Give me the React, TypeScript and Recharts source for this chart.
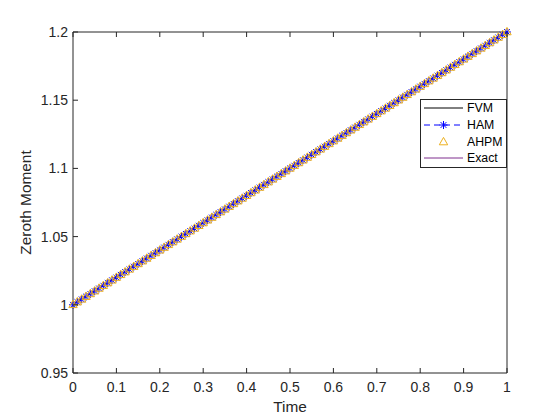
import React from 'react';
import { LineChart, Line, XAxis, YAxis, Legend } from 'recharts';

const time = [
  0, 0.01, 0.02, 0.03, 0.04, 0.05, 0.06, 0.07, 0.08, 0.09,
  0.1, 0.11, 0.12, 0.13, 0.14, 0.15, 0.16, 0.17, 0.18, 0.19,
  0.2, 0.21, 0.22, 0.23, 0.24, 0.25, 0.26, 0.27, 0.28, 0.29,
  0.3, 0.31, 0.32, 0.33, 0.34, 0.35, 0.36, 0.37, 0.38, 0.39,
  0.4, 0.41, 0.42, 0.43, 0.44, 0.45, 0.46, 0.47, 0.48, 0.49,
  0.5, 0.51, 0.52, 0.53, 0.54, 0.55, 0.56, 0.57, 0.58, 0.59,
  0.6, 0.61, 0.62, 0.63, 0.64, 0.65, 0.66, 0.67, 0.68, 0.69,
  0.7, 0.71, 0.72, 0.73, 0.74, 0.75, 0.76, 0.77, 0.78, 0.79,
  0.8, 0.81, 0.82, 0.83, 0.84, 0.85, 0.86, 0.87, 0.88, 0.89,
  0.9, 0.91, 0.92, 0.93, 0.94, 0.95, 0.96, 0.97, 0.98, 0.99,
  1,
];

const moment = [
  1, 1.002, 1.004, 1.006, 1.008, 1.01, 1.012, 1.014, 1.016, 1.018,
  1.02, 1.022, 1.024, 1.026, 1.028, 1.03, 1.032, 1.034, 1.036, 1.038,
  1.04, 1.042, 1.044, 1.046, 1.048, 1.05, 1.052, 1.054, 1.056, 1.058,
  1.06, 1.062, 1.064, 1.066, 1.068, 1.07, 1.072, 1.074, 1.076, 1.078,
  1.08, 1.082, 1.084, 1.086, 1.088, 1.09, 1.092, 1.094, 1.096, 1.098,
  1.1, 1.102, 1.104, 1.106, 1.108, 1.11, 1.112, 1.114, 1.116, 1.118,
  1.12, 1.122, 1.124, 1.126, 1.128, 1.13, 1.132, 1.134, 1.136, 1.138,
  1.14, 1.142, 1.144, 1.146, 1.148, 1.15, 1.152, 1.154, 1.156, 1.158,
  1.16, 1.162, 1.164, 1.166, 1.168, 1.17, 1.172, 1.174, 1.176, 1.178,
  1.18, 1.182, 1.184, 1.186, 1.188, 1.19, 1.192, 1.194, 1.196, 1.198,
  1.2,
];

const fvm = moment;
const ham = moment;
const ahpm = moment;
const exact = moment;

const xTicks = [0, 0.1, 0.2, 0.3, 0.4, 0.5, 0.6, 0.7, 0.8, 0.9, 1];
const yTicks = [0.95, 1, 1.05, 1.1, 1.15, 1.2];
const xLabel = 'Time';
const yLabel = 'Zeroth Moment';
const seriesNames = ['FVM', 'HAM', 'AHPM', 'Exact'];

const data = time.map((t, i) => ({
  t,
  fvm: fvm[i],
  ham: ham[i],
  ahpm: ahpm[i],
  exact: exact[i],
}));

const FONT = '"Liberation Sans", Arial, Helvetica, sans-serif';
const AXC = '#262626';
const BLUE = '#0000ff';
const ORANGE = '#EDB120';
const PURPLE = '#7E2F8E';
const TICK = 5;

const BottomTick = (p: any) => (
  <g>
    <line x1={p.x} x2={p.x} y1={p.y} y2={p.y - TICK} stroke={AXC} strokeWidth={1} />
    <text x={p.x} y={p.y + 9} dy="0.71em" textAnchor="middle" fontFamily={FONT} fontSize={14} fill={AXC}>
      {String(p.payload.value)}
    </text>
  </g>
);
const TopTick = (p: any) => (
  <line x1={p.x} x2={p.x} y1={p.y} y2={p.y + TICK} stroke={AXC} strokeWidth={1} />
);
const LeftTick = (p: any) => (
  <g>
    <line x1={p.x} x2={p.x + TICK} y1={p.y} y2={p.y} stroke={AXC} strokeWidth={1} />
    <text x={p.x - 5} y={p.y} dy="0.355em" textAnchor="end" fontFamily={FONT} fontSize={14} fill={AXC}>
      {String(p.payload.value)}
    </text>
  </g>
);
const RightTick = (p: any) => (
  <line x1={p.x} x2={p.x - TICK} y1={p.y} y2={p.y} stroke={AXC} strokeWidth={1} />
);

const Star = ({ cx, cy }: { cx: number; cy: number }) => {
  const r = 4;
  const d = r * 0.72;
  return (
    <g stroke={BLUE} strokeWidth={1} fill="none">
      <line x1={cx - r} x2={cx + r} y1={cy} y2={cy} />
      <line x1={cx} x2={cx} y1={cy - r} y2={cy + r} />
      <line x1={cx - d} x2={cx + d} y1={cy - d} y2={cy + d} />
      <line x1={cx - d} x2={cx + d} y1={cy + d} y2={cy - d} />
    </g>
  );
};

const Tri = ({ cx, cy }: { cx: number; cy: number }) => (
  <polygon
    points={`${cx},${cy - 4.6} ${cx - 4.2},${cy + 2.8} ${cx + 4.2},${cy + 2.8}`}
    stroke={ORANGE}
    strokeWidth={1}
    fill="none"
  />
);

const renderStar = (p: any) => <Star key={`s-${p.index}`} cx={p.cx} cy={p.cy} />;
const renderTri = (p: any) => <Tri key={`t-${p.index}`} cx={p.cx} cy={p.cy} />;

const LegendBox = () => {
  const rows = [9, 26, 43, 59];
  return (
    <svg width={87} height={69} style={{ display: 'block' }}>
      <rect x={0.5} y={0.5} width={86} height={68} fill="#ffffff" stroke={AXC} strokeWidth={1} />
      <line x1={4} x2={43} y1={rows[0]} y2={rows[0]} stroke="#000000" strokeWidth={1} />
      <line x1={4} x2={43} y1={rows[1]} y2={rows[1]} stroke={BLUE} strokeWidth={1} strokeDasharray="6 4" />
      <Star cx={23.5} cy={rows[1]} />
      <Tri cx={23.5} cy={rows[2]} />
      <line x1={4} x2={43} y1={rows[3]} y2={rows[3]} stroke={PURPLE} strokeWidth={1} />
      {seriesNames.map((n, i) => (
        <text key={n} x={47} y={rows[i]} dy="0.355em" fontFamily={FONT} fontSize={12.3} fill="#000000">
          {n}
        </text>
      ))}
    </svg>
  );
};

const YLabel = (p: any) => {
  const vb = p.viewBox || {};
  const cy = (vb.y ?? 32) + (vb.height ?? 341) / 2;
  const x = 31;
  return (
    <text
      x={x}
      y={cy}
      transform={`rotate(-90, ${x}, ${cy})`}
      textAnchor="middle"
      fontFamily={FONT}
      fontSize={15.4}
      fill={AXC}
    >
      {yLabel}
    </text>
  );
};

const XLabel = (p: any) => {
  const vb = p.viewBox || {};
  const cx = (vb.x ?? 73) + (vb.width ?? 434) / 2;
  return (
    <text x={cx} y={412} textAnchor="middle" fontFamily={FONT} fontSize={15.4} fill={AXC}>
      {xLabel}
    </text>
  );
};

export default function App() {
  return (
    <div style={{ position: 'absolute', left: 0, top: 0, width: 560, height: 420, background: '#ffffff' }}>
      <LineChart width={560} height={420} data={data} margin={{ top: 31, right: 52, left: 0, bottom: 0 }}>
        <XAxis
          xAxisId="b"
          dataKey="t"
          type="number"
          domain={[0, 1]}
          ticks={xTicks}
          interval={0}
          height={47}
          tickSize={0}
          tickMargin={0}
          tickLine={false}
          axisLine={{ stroke: AXC, strokeWidth: 1 }}
          tick={BottomTick}
          label={<XLabel />}
        />
        <XAxis
          xAxisId="t"
          dataKey="t"
          type="number"
          orientation="top"
          domain={[0, 1]}
          ticks={xTicks}
          interval={0}
          height={1}
          tickSize={0}
          tickMargin={0}
          tickLine={false}
          axisLine={{ stroke: AXC, strokeWidth: 1 }}
          tick={TopTick}
        />
        <YAxis
          yAxisId="l"
          type="number"
          domain={[0.95, 1.2]}
          ticks={yTicks}
          interval={0}
          width={73}
          tickSize={0}
          tickMargin={0}
          tickLine={false}
          axisLine={{ stroke: AXC, strokeWidth: 1 }}
          tick={LeftTick}
          label={<YLabel />}
        />
        <YAxis
          yAxisId="r"
          type="number"
          orientation="right"
          domain={[0.95, 1.2]}
          ticks={yTicks}
          interval={0}
          width={1}
          tickSize={0}
          tickMargin={0}
          tickLine={false}
          axisLine={{ stroke: AXC, strokeWidth: 1 }}
          tick={RightTick}
        />
        <Line xAxisId="b" yAxisId="l" dataKey="fvm" name="FVM" stroke="#000000" strokeWidth={1} dot={false} activeDot={false} isAnimationActive={false} />
        <Line xAxisId="b" yAxisId="l" dataKey="ham" name="HAM" stroke={BLUE} strokeWidth={1} strokeDasharray="6 4" dot={renderStar} activeDot={false} isAnimationActive={false} />
        <Line xAxisId="b" yAxisId="l" dataKey="ahpm" name="AHPM" stroke="none" strokeWidth={0} dot={renderTri} activeDot={false} isAnimationActive={false} />
        <Line xAxisId="b" yAxisId="l" dataKey="exact" name="Exact" stroke={PURPLE} strokeWidth={1} dot={false} activeDot={false} isAnimationActive={false} />
        <Legend
          layout="horizontal"
          verticalAlign="middle"
          align="center"
          content={<LegendBox />}
          wrapperStyle={{ left: 420, top: 99, width: 87, height: 69, right: 'auto', bottom: 'auto' }}
        />
      </LineChart>
    </div>
  );
}
